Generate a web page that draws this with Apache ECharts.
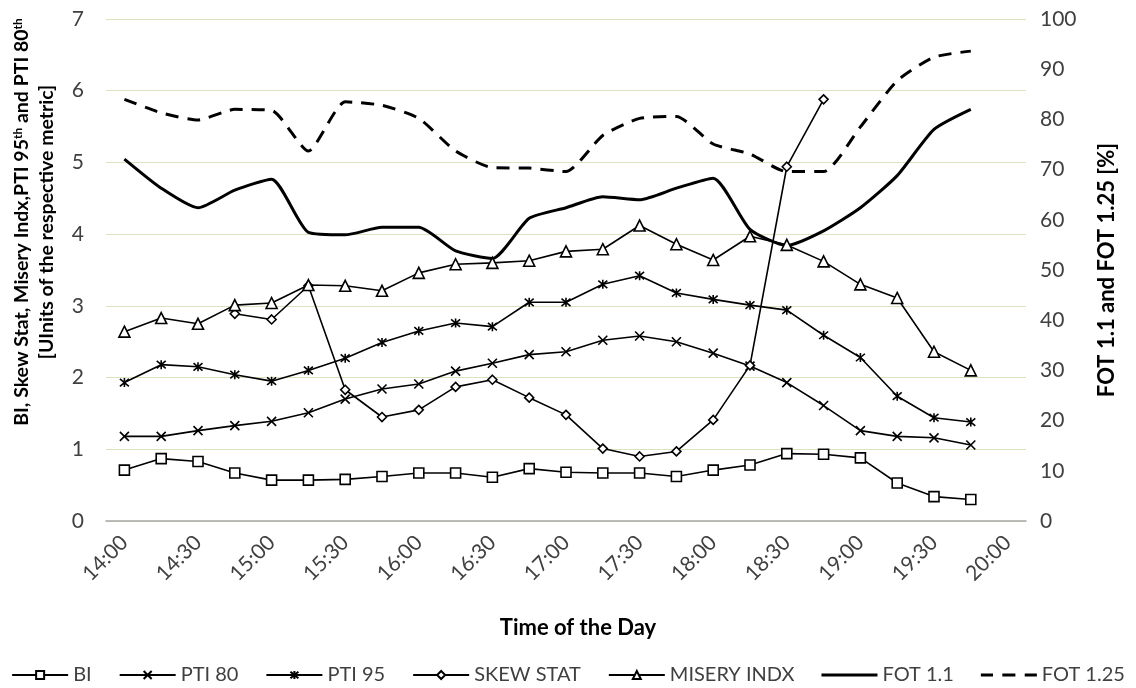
<!DOCTYPE html>
<html><head><meta charset="utf-8">
<script src="https://cdn.jsdelivr.net/npm/echarts@6/dist/echarts.min.js"></script>
<style>html,body{margin:0;padding:0;background:#fff}#c{width:1136px;height:688px}</style>
</head><body><div id="c"></div>
<script>
const categories = ['14:00','14:15','14:30','14:45','15:00','15:15','15:30','15:45','16:00','16:15','16:30','16:45','17:00','17:15','17:30','17:45','18:00','18:15','18:30','18:45','19:00','19:15','19:30','19:45','20:00'];
const bi = [0.71,0.87,0.83,0.67,0.57,0.57,0.58,0.62,0.67,0.67,0.61,0.73,0.68,0.67,0.67,0.62,0.71,0.78,0.94,0.93,0.88,0.53,0.34,0.30];
const pti80 = [1.18,1.18,1.26,1.33,1.39,1.51,1.70,1.84,1.91,2.09,2.20,2.32,2.36,2.52,2.58,2.50,2.34,2.16,1.93,1.61,1.26,1.18,1.16,1.06];
const pti95 = [1.93,2.18,2.15,2.04,1.95,2.10,2.27,2.49,2.65,2.76,2.71,3.05,3.05,3.30,3.42,3.18,3.09,3.01,2.94,2.59,2.28,1.74,1.44,1.38];
const skewStat = [null,null,null,2.89,2.81,3.28,1.83,1.45,1.55,1.87,1.97,1.72,1.48,1.01,0.90,0.97,1.41,2.17,4.94,5.88,null,null,null,null];
const miseryIndx = [2.64,2.83,2.75,3.01,3.04,3.29,3.28,3.21,3.46,3.58,3.60,3.63,3.76,3.79,4.12,3.86,3.64,3.97,3.85,3.62,3.30,3.11,2.36,2.10];
const fot11 = [72.1,66.3,62.4,65.9,68.1,57.5,57.0,58.5,58.5,53.8,52.3,60.3,62.4,64.6,64.0,66.3,68.3,58.1,54.9,57.8,62.4,68.8,78.0,82.0];
const fot125 = [84.0,81.3,79.9,82.0,81.8,73.7,83.5,82.8,80.2,73.7,70.4,70.3,69.6,76.8,80.2,80.6,75.1,73.1,69.6,69.6,78.5,87.7,92.4,93.6];
const leftTitleLine1 = 'BI, Skew Stat, Misery Indx,PTI 95{sup|th} and PTI 80{sup|th}';
const leftTitleLine2 = '[UInits of the respective metric]';

const FONT = 'Lato';
const LBL = '#404040';
const xPath = 'path://M0,0L10,10M10,0L0,10';
const starPath = 'path://M0,0L10,10M10,0L0,10M5,-1L5,11';
const solidIcon = 'path://M0,0L60,0L60,3L0,3Z';
const dashIcon = 'path://M0,0L13,0L13,3L0,3ZM23,0L37,0L37,3L23,3ZM47,0L60,0L60,3L47,3Z';

function markerSeries(name, data, symbol, size) {
  return {
    name, type: 'line', data, yAxisIndex: 0,
    symbol, symbolSize: size, showSymbol: true,
    connectNulls: false,
    lineStyle: { color: '#000', width: 1.6 },
    itemStyle: { color: '#fff', borderColor: '#000', borderWidth: 1.6 },
    emphasis: { disabled: true },
    z: 3
  };
}
function titleText(x, y, text) {
  return {
    type: 'text', x, y, rotation: Math.PI / 2, silent: true,
    style: {
      text, fontFamily: FONT, fontSize: 19.5, fontWeight: 'bold', fill: '#000',
      align: 'center', verticalAlign: 'middle',
      rich: { sup: { fontFamily: FONT, fontSize: 12, fontWeight: 'bold', fill: '#000', verticalAlign: 'top', padding: [0, 0, 8, 0] } }
    }
  };
}

const chart = echarts.init(document.getElementById('c'), null, { renderer: 'canvas' });
chart.setOption({
  animation: false,
  textStyle: { fontFamily: FONT },
  grid: { left: 106, right: 110, top: 19, bottom: 167, containLabel: false, outerBoundsMode: 'none' },
  graphic: [ titleText(22, 222, leftTitleLine1), titleText(47, 222, leftTitleLine2) ],
  legend: {
    top: 660, left: 'center', itemWidth: 56, itemHeight: 10, itemGap: 27,
    textStyle: { fontFamily: FONT, fontSize: 20, color: LBL },
    data: ['BI','PTI 80','PTI 95','SKEW STAT','MISERY INDX',
      { name: 'FOT 1.1', icon: solidIcon, itemStyle: { color: '#000', borderWidth: 0 } },
      { name: 'FOT 1.25', icon: dashIcon, itemStyle: { color: '#000', borderWidth: 0 } }]
  },
  xAxis: {
    type: 'category', data: categories, boundaryGap: true,
    name: 'Time of the Day', nameLocation: 'middle', nameGap: 96,
    nameTextStyle: { fontFamily: FONT, fontSize: 22, fontWeight: 'bold', color: '#000', padding: [0, 0, 0, 24] },
    axisLine: { lineStyle: { color: '#a6a6a6', width: 1.5 } },
    axisTick: { show: false },
    axisLabel: { interval: 1, rotate: 45, margin: 18, fontFamily: FONT, fontSize: 21, color: LBL },
    splitLine: { show: false }
  },
  yAxis: [
    {
      type: 'value', min: 0, max: 7, interval: 1, position: 'left',
      axisLine: { show: false }, axisTick: { show: false },
      axisLabel: { margin: 22, fontFamily: FONT, fontSize: 21, color: LBL },
      splitLine: { show: true, lineStyle: { color: '#d7e4bd', width: 1.2 } }
    },
    {
      type: 'value', min: 0, max: 100, interval: 10, position: 'right',
      name: 'FOT 1.1 and FOT 1.25 [%]',
      nameLocation: 'middle', nameGap: 70, nameRotate: 90,
      nameTextStyle: { fontFamily: FONT, fontSize: 22, fontWeight: 'bold', color: '#000' },
      axisLine: { show: false }, axisTick: { show: false },
      axisLabel: { margin: 14, fontFamily: FONT, fontSize: 21, color: LBL },
      splitLine: { show: false }
    }
  ],
  series: [
    markerSeries('BI', bi, 'rect', 10),
    markerSeries('PTI 80', pti80, xPath, 9),
    markerSeries('PTI 95', pti95, starPath, 9),
    markerSeries('SKEW STAT', skewStat, 'diamond', 9),
    markerSeries('MISERY INDX', miseryIndx, 'triangle', 11),
    {
      name: 'FOT 1.1', type: 'line', data: fot11, yAxisIndex: 1, symbol: 'none', smooth: 0.2,
      lineStyle: { color: '#000', width: 3 }, itemStyle: { color: '#000' }, emphasis: { disabled: true }, z: 2
    },
    {
      name: 'FOT 1.25', type: 'line', data: fot125, yAxisIndex: 1, symbol: 'none', smooth: 0.2,
      lineStyle: { color: '#000', width: 3, type: [13, 9] }, itemStyle: { color: '#000' }, emphasis: { disabled: true }, z: 2
    }
  ]
});
</script></body></html>
